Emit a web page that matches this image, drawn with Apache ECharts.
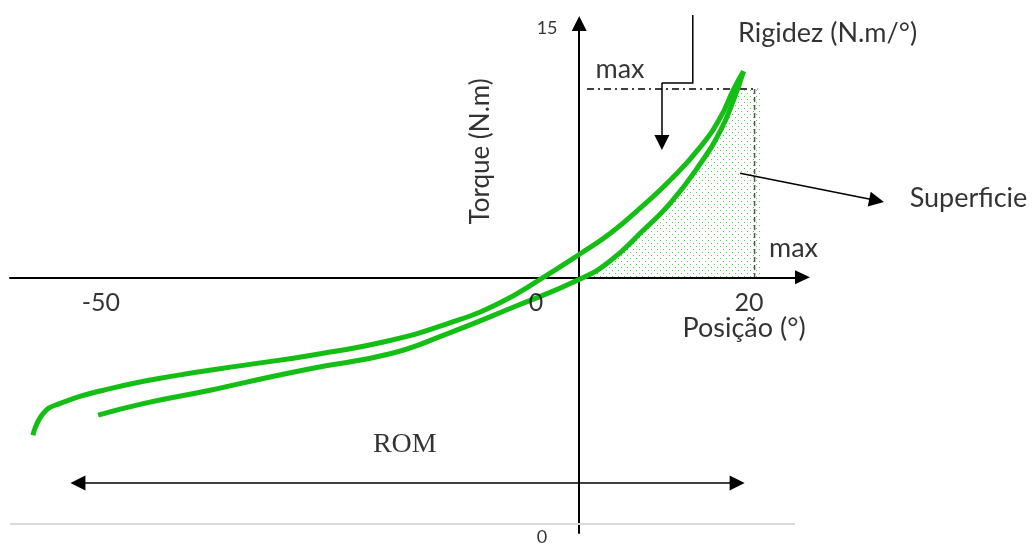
<!DOCTYPE html>
<html>
<head>
<meta charset="utf-8">
<script src="https://cdn.jsdelivr.net/npm/echarts@6/dist/echarts.min.js"></script>
<style>
  html, body { margin: 0; padding: 0; background: #fff; }
  #chart { width: 1035px; height: 547px; }
</style>
</head>
<body>
<div id="chart"></div>
<script>
// loading curve (outer) and unloading curve (inner), position in degrees, torque in N.m
var upperX = [-59.5, -58.4, -56.6, -51.1, -43.8, -36.6, -29.3, -20.6, -14.4, -8.9, -3.9, 0.2, 3.4, 6.7, 9.9, 13.2, 15.4, 16.8, 17.9];
var upperY = [-9.5, -8.2, -7.6, -6.7, -5.9, -5.3, -4.7, -3.8, -2.8, -1.6, 0, 1.45, 2.65, 4.2, 5.85, 7.85, 9.65, 11.3, 12.4];
var lowerX = [-52.4, -47.5, -40.2, -36.6, -29.3, -20.6, -14.4, -7.2, 0.1, 3.4, 7.0, 9.9, 13.2, 15.4, 16.8, 17.9];
var lowerY = [-8.3, -7.6, -6.8, -6.35, -5.5, -4.6, -3.4, -1.8, -0.1, 1.0, 2.85, 4.45, 6.85, 8.85, 10.65, 12.4];

// shaded surface under the inner curve, up to the max line
var areaX = [0, 3.4, 7.0, 9.9, 13.2, 15.4, 16.8, 17.2, 19.7];
var areaY = [0, 1.0, 2.85, 4.45, 6.85, 8.85, 10.65, 11.34, 11.34];

var maxTorque = 11.34;
var maxPos = 19.1;

// tick labels and where they sit
var xTickLabels = ['-50', '0', '20'];
var xTickAt = [-52.1, -4.7, 18.5];
var yTickLabels = ['15', '0'];
var yTickAtX = [-3.5, -4.05];
var yTickAtY = [14.98, -15.63];

function pairs(xs, ys) {
    return xs.map(function(x, i) { return [x, ys[i]]; });
}

var dots = document.createElement('canvas');
dots.width = 6;
dots.height = 6;
var g = dots.getContext('2d');
g.fillStyle = '#4fcf4f';
g.fillRect(0, 0, 1, 1);
g.fillRect(3, 3, 1, 1);

var font = 'Lato';
var texts = [];
xTickLabels.forEach(function(t, i) {
    texts.push({ value: [xTickAt[i], -1.52], label: { formatter: t, fontSize: 25 } });
});
yTickLabels.forEach(function(t, i) {
    texts.push({ value: [yTickAtX[i], yTickAtY[i]], label: { formatter: t, fontSize: 18 } });
});
texts.push({ value: [17.95, -3.08], label: { formatter: 'Posição (°)', fontSize: 27 } });
texts.push({ value: [-10.7, 7.58], label: { formatter: 'Torque (N.m)', fontSize: 26, rotate: 90 } });
texts.push({ value: [27.05, 14.68], label: { formatter: 'Rigidez (N.m/°)', fontSize: 27 } });
texts.push({ value: [4.44, 12.51], label: { formatter: 'max', fontSize: 27 } });
texts.push({ value: [42.4, 4.77], label: { formatter: 'Superficie', fontSize: 27 } });
texts.push({ value: [23.34, 1.73], label: { formatter: 'max', fontSize: 27 } });
texts.push({ value: [-19.0, -10.1], label: { formatter: 'ROM', fontSize: 28, fontFamily: 'Liberation Serif' } });

var myChart = echarts.init(document.getElementById('chart'));

var option = {
    animation: false,
    grid: { left: 10, right: 232.5, top: 23.5, bottom: 14, containLabel: false },
    xAxis: {
        type: 'value',
        min: -62,
        max: 24.32,
        axisLine: { show: true, symbol: ['none', 'triangle'], symbolSize: [14, 15], lineStyle: { color: '#000', width: 2 } },
        axisTick: { show: false },
        axisLabel: { show: false },
        splitLine: { show: false }
    },
    yAxis: {
        type: 'value',
        min: -15.39,
        max: 15.28,
        axisLine: { show: true, symbol: ['none', 'triangle'], symbolSize: [15, 15], lineStyle: { color: '#000', width: 2 } },
        axisTick: { show: false },
        axisLabel: { show: false },
        splitLine: { show: false }
    },
    series: [
        {
            type: 'line',
            data: pairs(areaX, areaY),
            smooth: true,
            symbol: 'none',
            lineStyle: { width: 0, opacity: 0 },
            areaStyle: { color: { image: dots, repeat: 'repeat' }, opacity: 1 },
            z: 1
        },
        {
            type: 'line',
            data: pairs(upperX, upperY),
            smooth: true,
            symbol: 'none',
            lineStyle: { color: '#14be14', width: 5 },
            z: 3
        },
        {
            type: 'line',
            data: pairs(lowerX, lowerY),
            smooth: true,
            symbol: 'none',
            lineStyle: { color: '#14be14', width: 5 },
            z: 3
        },
        {
            type: 'line',
            data: [[0.85, maxTorque], [maxPos + 0.3, maxTorque]],
            symbol: 'none',
            lineStyle: { color: '#000', width: 1.5, type: [7, 4, 2, 4] },
            z: 2
        },
        {
            type: 'line',
            data: [[maxPos, maxTorque], [maxPos, 0]],
            symbol: 'none',
            lineStyle: { color: '#555', width: 1.5, type: [5, 3] },
            z: 2
        },
        {
            type: 'line',
            data: [[-62, -14.85], [23.5, -14.85]],
            symbol: 'none',
            lineStyle: { color: '#d9d9d9', width: 2 },
            z: 2
        },
        {
            // Rigidez callout, first part
            type: 'lines',
            coordinateSystem: 'cartesian2d',
            polyline: true,
            clip: false,
            lineStyle: { color: '#000', width: 1.5, opacity: 1, curveness: 0 },
            data: [{ coords: [[12.37, 15.79], [12.37, 11.7], [9.0, 11.7]] }],
            z: 4
        },
        {
            type: 'lines',
            coordinateSystem: 'cartesian2d',
            clip: false,
            symbol: ['none', 'triangle'],
            symbolSize: [14, 15],
            lineStyle: { color: '#000', width: 1.5, opacity: 1, curveness: 0 },
            data: [
                { coords: [[9.0, 11.7], [9.0, 8.12]] },
                { coords: [[17.52, 6.27], [32.39, 4.62]] }
            ],
            z: 4
        },
        {
            // ROM
            type: 'lines',
            coordinateSystem: 'cartesian2d',
            clip: false,
            symbol: ['triangle', 'triangle'],
            symbolSize: [15, 15],
            lineStyle: { color: '#000', width: 1.5, opacity: 1, curveness: 0 },
            data: [{ coords: [[-54.6, -12.38], [17.2, -12.38]] }],
            z: 4
        },
        {
            type: 'scatter',
            clip: false,
            silent: true,
            symbolSize: 1,
            itemStyle: { color: 'rgba(0,0,0,0)' },
            label: { show: true, position: 'inside', color: '#000', fontFamily: font },
            data: texts,
            z: 5
        }
    ]
};

myChart.setOption(option);
</script>
</body>
</html>
